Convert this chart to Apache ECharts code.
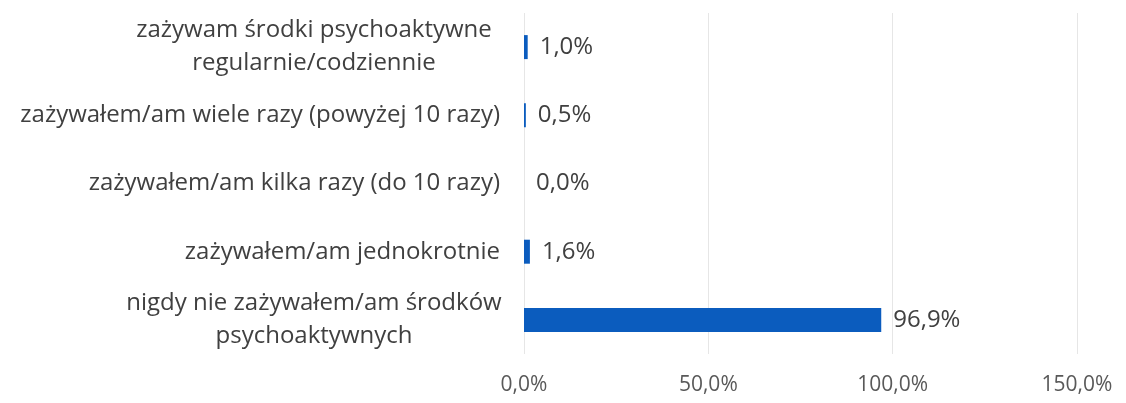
<!DOCTYPE html>
<html>
<head>
<meta charset="utf-8">
<script src="https://cdn.jsdelivr.net/npm/echarts@6/dist/echarts.min.js"></script>
<style>
  html, body { margin: 0; padding: 0; background: #fff; }
  #chart { width: 1126px; height: 403px; }
</style>
</head>
<body>
<div id="chart"></div>
<script>
// kategorie od dołu do góry (oś kategorii ECharts rośnie w górę)
const categories = [
  "nigdy nie zażywałem/am środków\npsychoaktywnych",
  "zażywałem/am jednokrotnie",
  "zażywałem/am kilka razy (do 10 razy)",
  "zażywałem/am wiele razy (powyżej 10 razy)",
  "zażywam środki psychoaktywne\nregularnie/codziennie"
]
const values = [96.9, 1.6, 0.0, 0.5, 1.0]
const xTicks = [0, 50, 100, 150]

const fmt = (v) => v.toFixed(1).replace(".", ",") + "%"
const font = "Open Sans"

const myChart = echarts.init(document.getElementById("chart"))
let option = {
  animation: false,
  grid: {
    left: 524,
    right: 49,
    top: 13,
    bottom: 49
  },
  xAxis: {
    type: "value",
    min: xTicks[0],
    max: xTicks[xTicks.length - 1],
    interval: 50,
    axisLine: { show: false },
    axisTick: { show: false },
    splitLine: { lineStyle: { color: "#e6e6e6", width: 1 } },
    axisLabel: {
      formatter: (v) => fmt(v),
      fontFamily: font,
      fontSize: 21,
      color: "#595959",
      margin: 21
    }
  },
  yAxis: {
    type: "category",
    data: categories,
    axisLine: { show: false },
    axisTick: { show: false },
    axisLabel: {
      margin: 24,
      fontFamily: font,
      fontSize: 24,
      color: "#404040",
      lineHeight: 33,
      formatter: function (v) {
        if (v.indexOf("\n") < 0) return v
        return v.split("\n").map((s) => "{c|" + s + "}").join("\n")
      },
      rich: {
        c: {
          width: 372,
          align: "center",
          fontFamily: font,
          fontSize: 24,
          color: "#404040",
          lineHeight: 33
        }
      }
    }
  },
  series: [
    {
      type: "bar",
      data: values,
      barWidth: 24,
      itemStyle: { color: "#0b5cbe" },
      label: {
        show: true,
        position: "right",
        distance: 12,
        formatter: (p) => fmt(p.value),
        fontFamily: font,
        fontSize: 24,
        color: "#404040"
      }
    }
  ]
}
myChart.setOption(option)
</script>
</body>
</html>
